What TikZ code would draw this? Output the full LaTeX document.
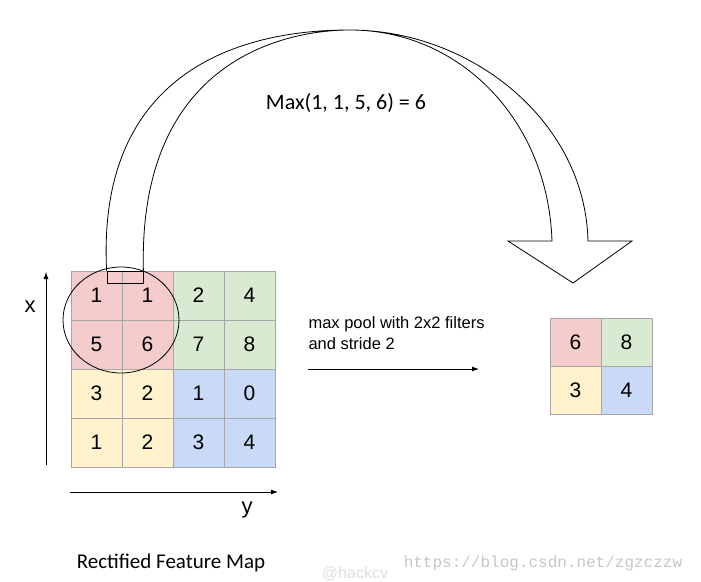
\documentclass[tikz,border=0pt]{standalone}
\usepackage{fontspec}
\usetikzlibrary{arrows.meta,shapes.geometric}
\setmainfont{Liberation Sans}
\newfontfamily\calib{Carlito}
\newfontfamily\mono{Liberation Mono}
\begin{document}
\begin{tikzpicture}[x=1pt,y=-1pt,
  cell/.style={draw=gray!70,line width=0.6pt,minimum width=51pt,minimum height=49pt,inner sep=0pt,font=\fontsize{21}{24}\selectfont},
  ocell/.style={cell,minimum width=51pt,minimum height=48pt},
  arr/.style={-{Latex[length=7pt,width=5pt]},line width=0.8pt}]
\definecolor{cr}{HTML}{F4CCCC}\definecolor{cg}{HTML}{D9EAD3}
\definecolor{cy}{HTML}{FFF2CC}\definecolor{cb}{HTML}{C9DAF8}
\useasboundingbox (0,0) rectangle (701,581);
% input grid
\foreach \r/\a/\b/\c/\d/\ca/\cc in {0/1/1/2/4/cr/cg,1/5/6/7/8/cr/cg,2/3/2/1/0/cy/cb,3/1/2/3/4/cy/cb}{
  \node[cell,fill=\ca] (g\r0) at (96.5,295.5+49*\r) {\a};
  \node[cell,fill=\ca] (g\r1) at (147.5,295.5+49*\r) {\b};
  \node[cell,fill=\cc] (g\r2) at (198.5,295.5+49*\r) {\c};
  \node[cell,fill=\cc] (g\r3) at (249.5,295.5+49*\r) {\d};
}
% output grid
\node[ocell,fill=cr] (o00) at (575.5,342) {6};
\node[ocell,fill=cg] (o01) at (626.5,342) {8};
\node[ocell,fill=cy] (o10) at (575.5,390) {3};
\node[ocell,fill=cb] (o11) at (626.5,390) {4};
% circle
\node[draw,ellipse,line width=0.8pt,minimum width=116pt,minimum height=106pt,inner sep=0pt] (circ) at (121,320) {};
% big arrow
\node[draw,line width=0.8pt,minimum width=36pt,minimum height=12pt,inner sep=0pt] (sq) at (125,277) {};
\draw[line width=0.8pt] (sq.north west) .. controls (95,40) and (290,30) .. (350,30) .. controls (460,30) and (548,120) .. (552,241)
  -- (508,241) -- (573,283) -- (632,241) -- (588,241)
  .. controls (585,120) and (470,30) .. (350,30) .. controls (285,30) and (138,60) .. (sq.north east);
\node[font=\calib\fontsize{22}{26}\selectfont] (mx) at (346,103) {Max(1, 1, 5, 6) = 6};
% axes
\coordinate (xa0) at (46,465); \coordinate (xa1) at (46,272);
\coordinate (ya0) at (70,492); \coordinate (ya1) at (278,492);
\draw[arr] (xa0) -- (xa1);
\draw[arr] (ya0) -- (ya1);
\node[font=\fontsize{22}{24}\selectfont] (xl) at (30,307) {x};
\node[font=\fontsize{22}{24}\selectfont] (yl) at (247,510) {y};
% pool text
\node[anchor=west,align=left,font=\fontsize{16.5}{21}\selectfont] (pt) at (305,333) {max pool with 2x2 filters\\and stride 2};
\coordinate (pa0) at (308,369); \coordinate (pa1) at (479,369);
\draw[arr] (pa0) -- (pa1);
\node[font=\calib\fontsize{21}{24}\selectfont] (rf) at (171,563) {Rectified Feature Map};
\node[font=\fontsize{16}{18}\selectfont,text=gray!25] (wb) at (355,574) {@hackcv};
\node[font=\mono\fontsize{16}{18}\selectfont,text=gray!45] (wm) at (543,563) {https://blog.csdn.net/zgzczzw};
\end{tikzpicture}
\end{document}
